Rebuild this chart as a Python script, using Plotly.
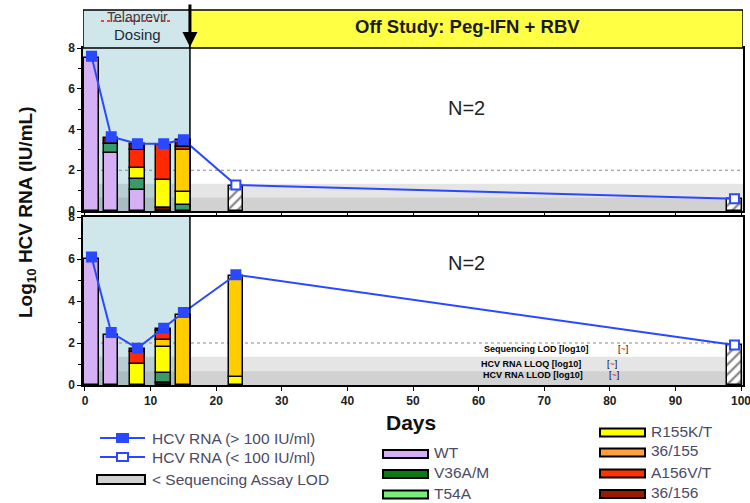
import plotly.graph_objects as go

# ---------------- data ----------------
days = [1, 4, 8, 12, 15, 23, 99]
rna_top = [7.6, 3.65, 3.3, 3.3, 3.5, 1.28, 0.6]
quant_top = [1, 1, 1, 1, 1, 0, 0]
rna_bot = [6.1, 2.5, 1.75, 2.7, 3.45, 5.25, 1.9]
quant_bot = [1, 1, 1, 1, 1, 1, 0]

# stacked variant segments: day, variant, low, high
top_seg_day = [1, 4, 4, 4, 8, 8, 8, 8, 8, 12, 12, 12, 15, 15, 15, 15, 15]
top_seg_var = ["WT", "WT", "V36A/M", "36/156", "WT", "V36A/M", "R155K/T", "A156V/T", "36/156",
               "36/156", "R155K/T", "A156V/T", "V36A/M", "R155K/T", "36/155", "A156V/T", "36/156"]
top_seg_low = [0, 0, 2.85, 3.3, 0, 1.05, 1.55, 2.1, 3.0, 0, 0.15, 1.5, 0, 0.3, 0.95, 3.0, 3.15]
top_seg_high = [7.5, 2.85, 3.3, 3.6, 1.05, 1.55, 2.1, 3.0, 3.3, 0.15, 1.5, 3.25, 0.3, 0.95, 3.0, 3.15, 3.5]

bot_seg_day = [1, 4, 8, 8, 8, 12, 12, 12, 12, 12, 12, 15, 23, 23]
bot_seg_var = ["WT", "WT", "R155K/T", "A156V/T", "36/156", "36/156", "V36A/M", "R155K/T", "36/155",
               "A156V/T", "36/156", "36/155", "R155K/T", "36/155"]
bot_seg_low = [0, 0, 0, 1.0, 1.55, 0, 0.1, 0.55, 1.8, 2.15, 2.55, 0, 0, 0.4]
bot_seg_high = [6.0, 2.4, 1.0, 1.55, 1.7, 0.1, 0.55, 1.8, 2.15, 2.55, 2.65, 3.35, 0.4, 5.2]

# below sequencing LOD (hatched)
lod_top_days = [23, 99]
lod_top_vals = [1.25, 0.6]
lod_bot_days = [99]
lod_bot_vals = [1.9]

variants = ["WT", "V36A/M", "T54A", "R155K/T", "36/155", "A156V/T", "36/156"]
bar_colors = {"WT": "#d6b0f5", "V36A/M": "#3a9b6a", "T54A": "#7be87b", "R155K/T": "#ffff00",
              "36/155": "#ffcc00", "A156V/T": "#ff2a00", "36/156": "#6a1200"}
legend_colors = {"WT": "#d6b0f5", "V36A/M": "#0b7a12", "T54A": "#77ee77", "R155K/T": "#ffff00",
                 "36/155": "#ffa040", "A156V/T": "#ff3300", "36/156": "#9a1a00"}

x_ticks = list(range(0, 101, 10))
y_ticks = [0, 2, 4, 6, 8]

# ---------------- geometry helpers ----------------
L, R, T, B = 83, 743, 48, 385
W, H = 750, 503


def PX(x):
    return (x - L) / (R - L)


def PY(y):
    return (B - y) / (B - T)


top_dom = [PY(211), 1.0]
bot_dom = [0.0, PY(217)]

FONT = "Liberation Sans, Arial, sans-serif"
BLUE = "#2a48ff"

fig = go.Figure()

# variant bars
for panel, (sd, sv, sl, sh) in enumerate([(top_seg_day, top_seg_var, top_seg_low, top_seg_high),
                                          (bot_seg_day, bot_seg_var, bot_seg_low, bot_seg_high)]):
    xa, ya = ("x", "y") if panel == 0 else ("x2", "y2")
    for v in variants:
        idx = [i for i, name in enumerate(sv) if name == v]
        if not idx:
            continue
        fig.add_trace(go.Bar(
            x=[sd[i] for i in idx], y=[sh[i] - sl[i] for i in idx], base=[sl[i] for i in idx],
            width=2.2, marker=dict(color=bar_colors[v], line=dict(color="black", width=1.5)),
            xaxis=xa, yaxis=ya, showlegend=False, name=v))

# hatched LOD bars
for xa, ya, dd, vv in [("x", "y", lod_top_days, lod_top_vals), ("x2", "y2", lod_bot_days, lod_bot_vals)]:
    fig.add_trace(go.Bar(
        x=dd, y=vv, width=2.2, xaxis=xa, yaxis=ya, showlegend=False,
        marker=dict(color="white", line=dict(color="black", width=1.5),
                    pattern=dict(shape="/", fgcolor="black", bgcolor="white", size=7, solidity=0.3))))

# HCV RNA lines
for xa, ya, vals, q in [("x", "y", rna_top, quant_top), ("x2", "y2", rna_bot, quant_bot)]:
    fig.add_trace(go.Scatter(
        x=days, y=vals, mode="lines+markers", xaxis=xa, yaxis=ya, showlegend=False,
        line=dict(color=BLUE, width=2),
        marker=dict(symbol="square", size=9, color=[BLUE if f else "white" for f in q],
                    line=dict(color=BLUE, width=2))))

shapes = []
for xr, yr in [("x", "y"), ("x2", "y2")]:
    shapes.append(dict(type="rect", xref=xr, yref=yr, x0=-0.3, x1=16, y0=0, y1=8,
                       fillcolor="#cfe6ea", line=dict(width=0), layer="below"))
    shapes.append(dict(type="rect", xref=xr, yref=yr, x0=-0.3, x1=100.3, y0=0.66, y1=1.34,
                       fillcolor="rgba(0,0,0,0.10)", line=dict(width=0), layer="below"))
    shapes.append(dict(type="rect", xref=xr, yref=yr, x0=-0.3, x1=100.3, y0=0, y1=0.66,
                       fillcolor="rgba(0,0,0,0.18)", line=dict(width=0), layer="below"))
    shapes.append(dict(type="line", xref=xr, yref=yr, x0=-0.3, x1=100.3, y0=2, y1=2,
                       line=dict(color="#888888", width=1, dash="dot"), layer="below"))
    shapes.append(dict(type="line", xref=xr, yref=yr, x0=16, x1=16, y0=0, y1=8,
                       line=dict(color="black", width=1.5)))

# header bands
shapes.append(dict(type="rect", xref="x", yref="paper", x0=-0.3, x1=16, y0=1.0, y1=PY(10),
                   fillcolor="#cfe6ea", line=dict(color="black", width=1.5)))
shapes.append(dict(type="rect", xref="x", yref="paper", x0=16, x1=100.3, y0=1.0, y1=PY(10),
                   fillcolor="#ffff44", line=dict(color="black", width=1.5)))
# red spell-check squiggle under "Telaprevir"
shapes.append(dict(type="line", xref="paper", yref="paper", x0=PX(101), x1=PX(172), y0=PY(21),
                   y1=PY(21), line=dict(color="#ff3b2f", width=2, dash="dot")))


def ann(text, x, y, size, color="#111", xanchor="center", **kw):
    return dict(text=text, x=PX(x), y=PY(y), xref="paper", yref="paper", showarrow=False,
                xanchor=xanchor, yanchor="middle", font=dict(family=FONT, size=size, color=color), **kw)


annotations = [
    ann("Telaprevir", 137, 17, 14, "#4a3a3a"),
    ann("Dosing", 137, 35, 15, "#1a2a3a"),
    ann("<b>Off Study: Peg-IFN + RBV</b>", 467, 27, 18.5, "#1a1a1a"),
    dict(x=16, y=PY(47), xref="x", yref="paper", ax=0, ay=-44, showarrow=True, text="",
         arrowhead=2, arrowsize=1, arrowwidth=3, arrowcolor="black"),
    ann("N=2", 466, 108, 20, "#222"),
    ann("N=2", 466, 263, 20, "#222"),
    ann("<b>Log<sub>10</sub> HCV RNA (IU/mL)</b>", 27, 213, 19, "#111", textangle=-90),
    ann("<b>Days</b>", 411, 423, 21, "#111"),
]

for txt, cx, cy, bx in [("Sequencing LOD [log10]", 536, 349, 623),
                        ("HCV RNA LLOQ [log10]", 531, 364, 612),
                        ("HCV RNA LLOD [log10]", 533, 375, 614)]:
    annotations.append(ann("<b>" + txt + "</b>", cx, cy, 9, "black"))
    annotations.append(ann("[<span style='color:#ff3300'>~</span>]", bx, cy, 9, "black"))

# legend: lines
LEG_TXT = "#4a4a66"
LEG_SIZE = 15.5
for py_, filled, label in [(438, True, "HCV RNA (> 100 IU/ml)"), (457, False, "HCV RNA (< 100 IU/ml)")]:
    shapes.append(dict(type="line", xref="paper", yref="paper", x0=PX(100), x1=PX(145),
                       y0=PY(py_), y1=PY(py_), line=dict(color=BLUE, width=2)))
    shapes.append(dict(type="rect", xref="paper", yref="paper", x0=PX(117), x1=PX(128),
                       y0=PY(py_ + 4), y1=PY(py_ - 4), fillcolor=BLUE if filled else "white",
                       line=dict(color=BLUE, width=2)))
    annotations.append(ann(label, 150, py_, LEG_SIZE, LEG_TXT, xanchor="left"))
shapes.append(dict(type="rect", xref="paper", yref="paper", x0=PX(97), x1=PX(145), y0=PY(484),
                   y1=PY(475), fillcolor="#d0d0d0", line=dict(color="black", width=2)))
annotations.append(ann("< Sequencing Assay LOD", 150, 479, LEG_SIZE, LEG_TXT, xanchor="left"))

# legend: variants
leg_pos = {"WT": (383, 454), "V36A/M": (383, 474), "T54A": (383, 494.5),
           "R155K/T": (600, 432.5), "36/155": (600, 452.5), "A156V/T": (600, 473.5), "36/156": (600, 494)}
for v in variants:
    x0, yc = leg_pos[v]
    shapes.append(dict(type="rect", xref="paper", yref="paper", x0=PX(x0), x1=PX(x0 + 45),
                       y0=PY(yc + 4), y1=PY(yc - 4), fillcolor=legend_colors[v],
                       line=dict(color="black", width=2)))
    annotations.append(ann(v, x0 + 49, yc - 1.5, LEG_SIZE, LEG_TXT, xanchor="left"))

axis_common = dict(showline=True, linecolor="black", linewidth=1.5, mirror=True, showgrid=False,
                   zeroline=False, ticks="outside", ticklen=4, tickcolor="black", automargin=False,
                   ticklabeloverflow="allow")

fig.update_layout(
    width=W, height=H, paper_bgcolor="white", plot_bgcolor="white",
    margin=dict(l=L, r=W - R, t=T, b=H - B, pad=0, autoexpand=False),
    barmode="overlay", bargap=0,
    shapes=shapes, annotations=annotations, showlegend=False,
    xaxis=dict(domain=[0, 1], anchor="y", range=[-0.3, 100.3], tickvals=x_ticks,
               showticklabels=False, **axis_common),
    yaxis=dict(domain=top_dom, anchor="x", range=[0, 8], tickvals=y_ticks,
               tickfont=dict(family=FONT, size=12, color="#222", weight="bold"),
               minor=dict(dtick=1, ticks="outside", ticklen=3, tickcolor="black"), **axis_common),
    xaxis2=dict(domain=[0, 1], anchor="y2", range=[-0.3, 100.3], tickvals=x_ticks,
                tickfont=dict(family=FONT, size=12, color="#222", weight="bold"), **axis_common),
    yaxis2=dict(domain=bot_dom, anchor="x2", range=[0, 8], tickvals=y_ticks,
                tickfont=dict(family=FONT, size=12, color="#222", weight="bold"),
                minor=dict(dtick=1, ticks="outside", ticklen=3, tickcolor="black"), **axis_common),
)

fig.write_html("out.html", config={"displayModeBar": False},
               post_script="document.body.style.margin='0';")
